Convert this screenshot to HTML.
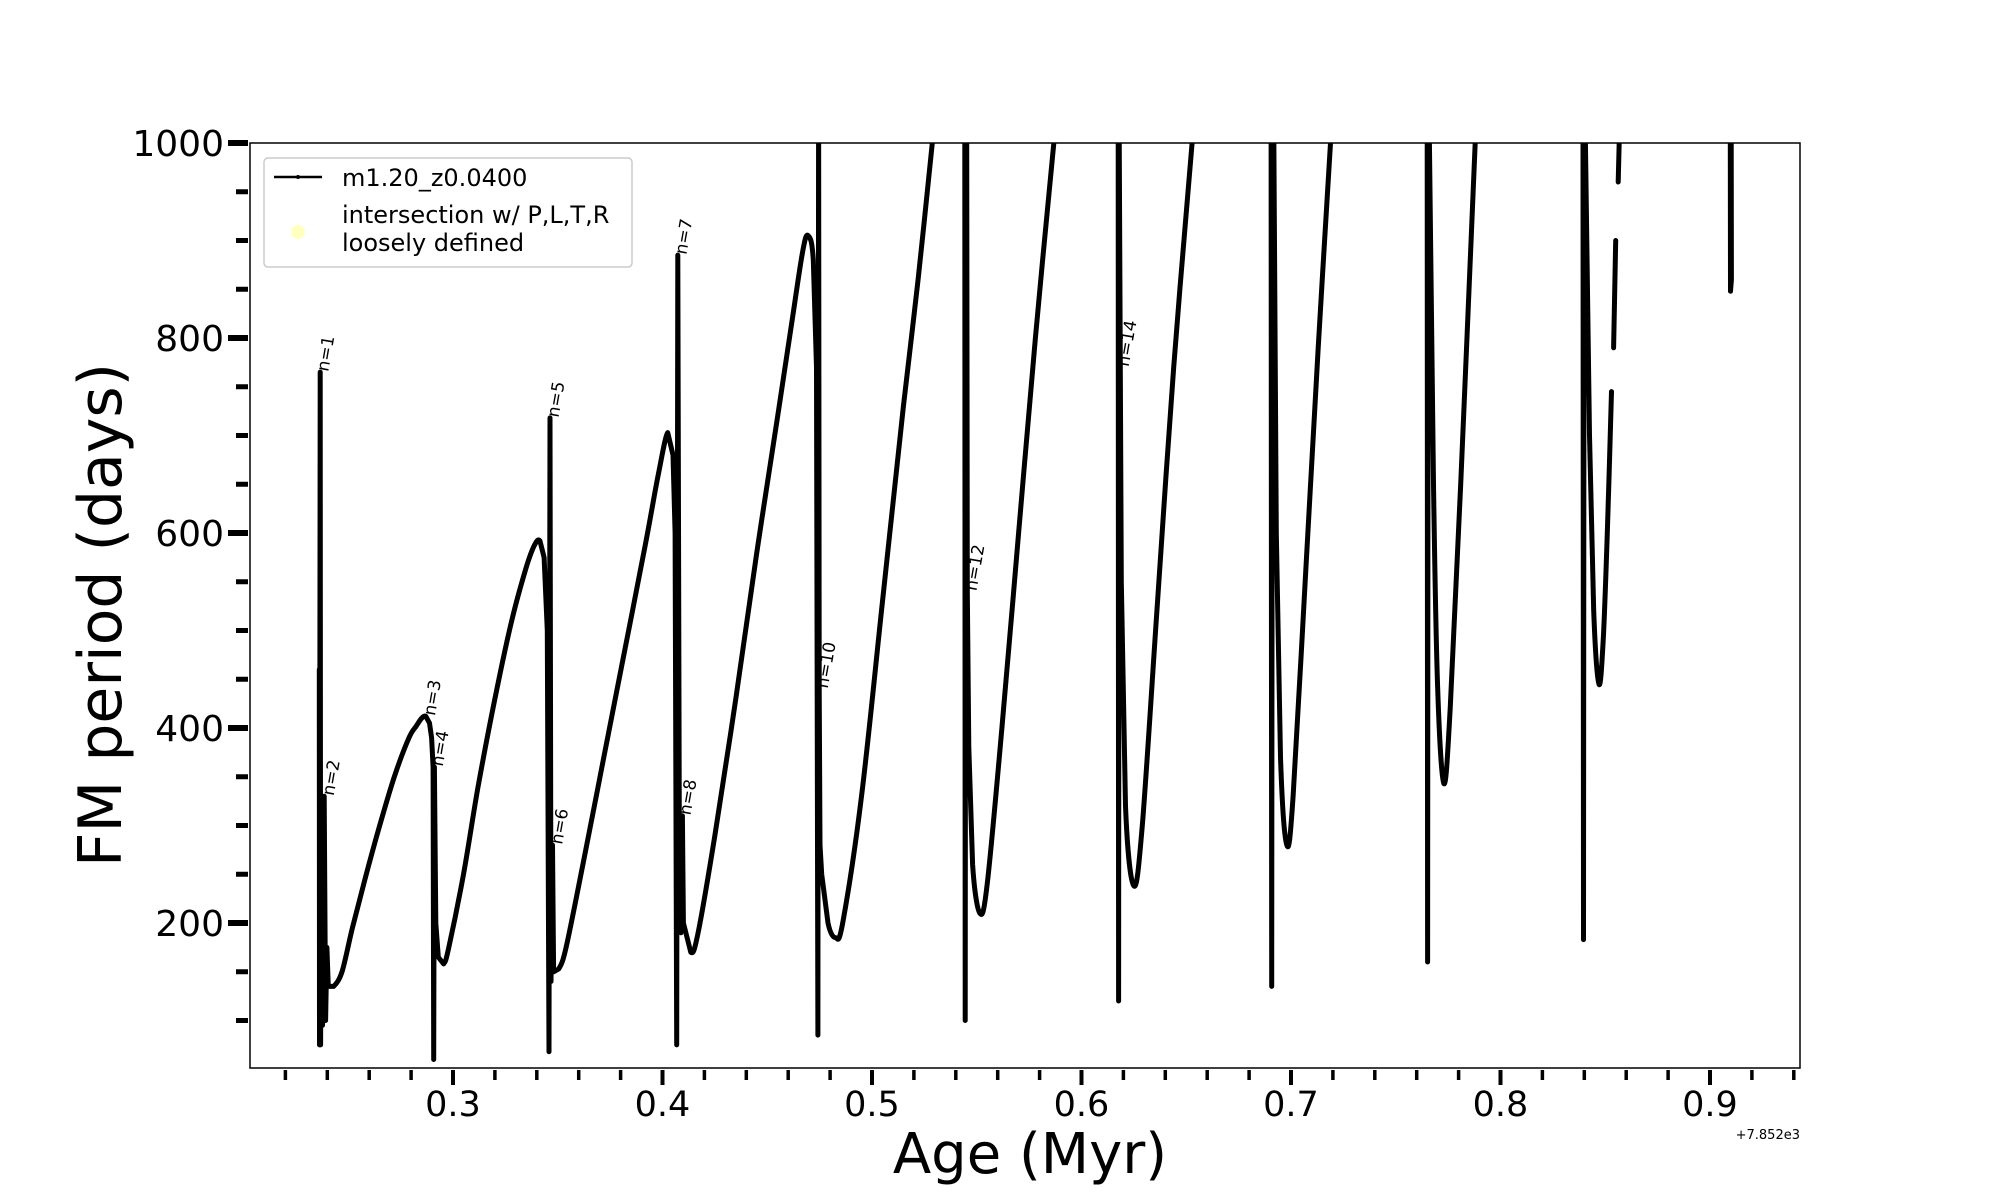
<!DOCTYPE html>
<html><head><meta charset="utf-8"><style>
body{margin:0;background:#fff;}
svg{display:block;font-family:"DejaVu Sans","Liberation Sans",sans-serif;}
</style></head><body>
<svg id="chart" width="2000" height="1200" viewBox="0 0 2000 1200" xmlns="http://www.w3.org/2000/svg">
<defs><clipPath id="pc"><rect x="250" y="143" width="1550" height="925"/></clipPath></defs>
<rect x="0" y="0" width="2000" height="1200" fill="#fff"/>
<g id="series" clip-path="url(#pc)"></g>
<g id="labels"></g>
<rect x="250" y="143" width="1550" height="925" fill="none" stroke="#000" stroke-width="1.5"/>
<g id="axes"></g>
<text transform="translate(121,615) rotate(-90)" text-anchor="middle" font-size="60">FM period (days)</text>
<text x="1030" y="1173" text-anchor="middle" font-size="56">Age (Myr)</text>
<text x="1800" y="1139" text-anchor="end" font-size="13">+7.852e3</text>
<g>
<rect x="264" y="158" width="368" height="109" rx="4" fill="#fff" fill-opacity="0.8" stroke="#ccc" stroke-width="1.5"/>
<line x1="274" y1="177" x2="322" y2="177" stroke="#000" stroke-width="2.5"/>
<circle cx="298" cy="177" r="2" fill="#000"/>
<text x="342" y="186" font-size="24">m1.20_z0.0400</text>
<circle cx="298" cy="232" r="7" fill="#ffffc0"/>
<text x="342" y="223" font-size="24">intersection w/ P,L,T,R</text>
<text x="342" y="251" font-size="24">loosely defined</text>
</g>
</svg>
<script>
const seg1X=[0.2362,0.2363,0.2366,0.2368,0.2372,0.2377,0.2385,0.2392,0.2398,0.2405,0.243,0.247,0.252,0.258,0.265,0.272,0.279,0.2825,0.285,0.287,0.2888,0.2898,0.2905,0.2908,0.2911,0.2918,0.293,0.2955,0.298,0.305,0.312,0.32,0.328,0.335,0.339,0.3415,0.3435,0.345,0.3458,0.3463,0.3468,0.3475,0.348,0.3505,0.354,0.362,0.372,0.382,0.392,0.398,0.4025,0.405,0.406,0.4068,0.4073,0.408,0.4088,0.4095,0.410,0.4135,0.417,0.425,0.435,0.445,0.455,0.462,0.467,0.4695,0.472,0.4735,0.4742,0.4745,0.4748,0.4752,0.476,0.479,0.4825,0.486,0.495,0.505,0.515,0.522,0.529];
const seg1Y=[460,75,765,75,300,95,330,100,175,135,135,150,195,245,300,350,390,402,410,412,405,390,360,60,360,200,165,158,175,250,340,430,510,565,588,592,575,500,68,718,140,280,150,153,175,260,370,480,590,660,703,680,600,75,885,300,190,310,200,170,190,290,430,580,720,820,890,905,880,770,85,1050,440,280,250,200,185,200,330,530,730,860,1005];
const seg2X=[0.5443,0.5445,0.5448,0.5452,0.5455,0.5462,0.548,0.5515,0.555,0.562,0.570,0.578,0.587];
const seg2Y=[1010,100,1010,1010,540,380,260,210,240,400,600,800,1005];
const seg3X=[0.6175,0.6177,0.618,0.6185,0.619,0.621,0.625,0.629,0.636,0.644,0.653];
const seg3Y=[1010,120,1010,770,550,320,238,300,520,770,1005];
const seg4X=[0.6905,0.6908,0.6911,0.6918,0.693,0.695,0.698,0.701,0.707,0.713,0.719];
const seg4Y=[1010,135,1010,1010,600,370,280,330,560,790,1005];
const seg5X=[0.7650,0.7652,0.7655,0.766,0.768,0.770,0.773,0.776,0.781,0.788];
const seg5Y=[1010,160,1010,1010,650,440,343,420,650,1005];
const seg6X=[0.8394,0.8396,0.8399,0.8405,0.8425,0.8445,0.847,0.849,0.851,0.853];
const seg6Y=[1010,183,1010,1010,700,520,445,490,600,745];
const seg7X=[0.854,0.855];
const seg7Y=[790,900];
const seg8X=[0.8562,0.8567];
const seg8Y=[960,1005];
const seg9X=[0.9097,0.9098,0.9102,0.9101];
const seg9Y=[1005,848,860,1005];
const modeNames=["n=1","n=2","n=3","n=4","n=5","n=6","n=7","n=8","n=10","n=12","n=14"];
const modeX=[0.2366,0.2392,0.2875,0.2912,0.3465,0.3482,0.4075,0.4095,0.475,0.546,0.6186];
const modeY=[765,330,412,360,718,280,885,310,440,540,770];
const xTicks=[0.3,0.4,0.5,0.6,0.7,0.8,0.9];
const xTickLabels=["0.3","0.4","0.5","0.6","0.7","0.8","0.9"];
const yTicks=[200,400,600,800,1000];
const yTickLabels=["200","400","600","800","1000"];

const NS="http://www.w3.org/2000/svg";
function xs(v){return 453+(v-0.3)*2095;}
function ys(v){return 143+(1000-v)*0.975;}
function buildPath(X,Y){
  const P=X.map(function(x,j){return [xs(x),ys(Y[j])];});
  let d='M'+P[0][0].toFixed(1)+','+P[0][1].toFixed(1);
  const TH=0.0015;
  for(let i=0;i<P.length-1;i++){
    const smooth=(X[i+1]-X[i]>TH)&&(i>0?X[i]-X[i-1]>TH:true)&&(i+2<X.length?X[i+2]-X[i+1]>TH:true);
    if(smooth){
      const p0=P[i>0?i-1:i],p1=P[i],p2=P[i+1],p3=P[i+2<P.length?i+2:i+1];
      const c1=[p1[0]+(p2[0]-p0[0])/6,p1[1]+(p2[1]-p0[1])/6];
      const c2=[p2[0]-(p3[0]-p1[0])/6,p2[1]-(p3[1]-p1[1])/6];
      d+=' C'+c1[0].toFixed(1)+','+c1[1].toFixed(1)+' '+c2[0].toFixed(1)+','+c2[1].toFixed(1)+' '+p2[0].toFixed(1)+','+p2[1].toFixed(1);
    } else {
      d+=' L'+P[i+1][0].toFixed(1)+','+P[i+1][1].toFixed(1);
    }
  }
  return d;
}
const series=document.getElementById('series');
const segs=[[seg1X,seg1Y],[seg2X,seg2Y],[seg3X,seg3Y],[seg4X,seg4Y],[seg5X,seg5Y],[seg6X,seg6Y],[seg7X,seg7Y],[seg8X,seg8Y],[seg9X,seg9Y]];
segs.forEach(function(s,i){
  const p=document.createElementNS(NS,'path');
  
  
  p.setAttribute('d',buildPath(s[0],s[1]));
  p.setAttribute('fill','none');p.setAttribute('stroke','#000');
  p.setAttribute('stroke-width','5');p.setAttribute('stroke-linejoin','round');p.setAttribute('stroke-linecap','round');
  series.appendChild(p);
});
const labels=document.getElementById('labels');
modeNames.forEach(function(n,i){
  const t=document.createElementNS(NS,'text');
  
  
  const x=xs(modeX[i])+8,y=ys(modeY[i]);
  t.setAttribute('transform','translate('+x+','+y+') rotate(-80)');
  t.setAttribute('font-size','17');
  t.textContent=n;
  labels.appendChild(t);
});
const axes=document.getElementById('axes');
function line(x1,y1,x2,y2,w,name){
  const l=document.createElementNS(NS,'line');
  
  
  l.setAttribute('x1',x1);l.setAttribute('y1',y1);l.setAttribute('x2',x2);l.setAttribute('y2',y2);
  l.setAttribute('stroke','#000');l.setAttribute('stroke-width',w);
  axes.appendChild(l);
}
for(let k=11;k<=47;k++){
  const v=k*0.02;const x=xs(v);
  if(x<251||x>1799)continue;
  const major=(k%5===0);
  line(x,1070,x,major?1085:1080,major?4:3.5,major?'x-major-tick':'x-minor-tick');
}
for(let v=100;v<=1000;v+=50){
  const major=(v%200===0);
  line(major?228:236,ys(v),248,ys(v),major?6:5,major?'y-major-tick':'y-minor-tick');
}
xTicks.forEach(function(v,i){
  const t=document.createElementNS(NS,'text');
  
  
  t.setAttribute('x',xs(v));t.setAttribute('y',1116);
  t.setAttribute('text-anchor','middle');t.setAttribute('font-size','35');
  t.textContent=xTickLabels[i];axes.appendChild(t);
});
yTicks.forEach(function(v,i){
  const t=document.createElementNS(NS,'text');
  
  
  t.setAttribute('x',224);t.setAttribute('y',ys(v)+13);
  t.setAttribute('text-anchor','end');t.setAttribute('font-size','36');
  t.textContent=yTickLabels[i];axes.appendChild(t);
});
</script>
</body></html>
